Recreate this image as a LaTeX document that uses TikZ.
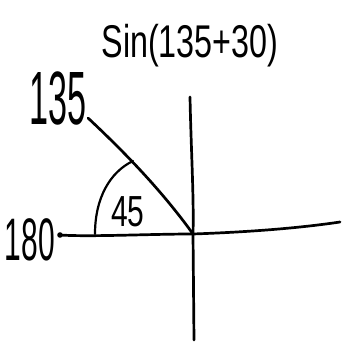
\documentclass[tikz,border=0pt]{standalone}
\usepackage{fontspec}
\setmainfont{Liberation Sans}
\begin{document}
\begin{tikzpicture}[x=1pt,y=1pt,
  ink/.style={line width=2.7pt,line cap=round,black},
  thin ink/.style={line width=2.2pt,line cap=round,black},
  lbl/.style={inner sep=0pt,black}]
\useasboundingbox (0,0) rectangle (344,348);
\coordinate (O) at (193,114);
\coordinate (vt) at (190,251);
\coordinate (vb) at (194,8);
\coordinate (hl) at (60,113);
\coordinate (hr) at (340,126);
\coordinate (r135) at (88,230);
% axes
\draw[ink] (vt) .. controls (191,200) and (194,150) .. (O) -- (vb);
\draw[ink] (hl) .. controls (90,111) and (150,114) .. (O) .. controls (250,116) and (300,120) .. (hr);
\fill (hl) circle (2.8pt);
% ray at 135
\draw[ink] (O) .. controls (160,160) and (120,200) .. (r135);
% angle arc
\draw[thin ink] (95,114) .. controls (95,150) and (110,176) .. (133,187);
% labels
\node[lbl] (title) at (190,302) {\fontsize{34}{34}\selectfont\scalebox{0.95}[1.35]{Sin(135+30)}};
\node[lbl] (l135) at (58,250) {\fontsize{36}{36}\selectfont\scalebox{0.95}[2.1]{135}};
\node[lbl] (l180) at (30,108) {\fontsize{30}{30}\selectfont\scalebox{1}[2]{180}};
\node[lbl] (l45) at (128,136) {\fontsize{30}{30}\selectfont\scalebox{1}[1.45]{45}};
\end{tikzpicture}
\end{document}
